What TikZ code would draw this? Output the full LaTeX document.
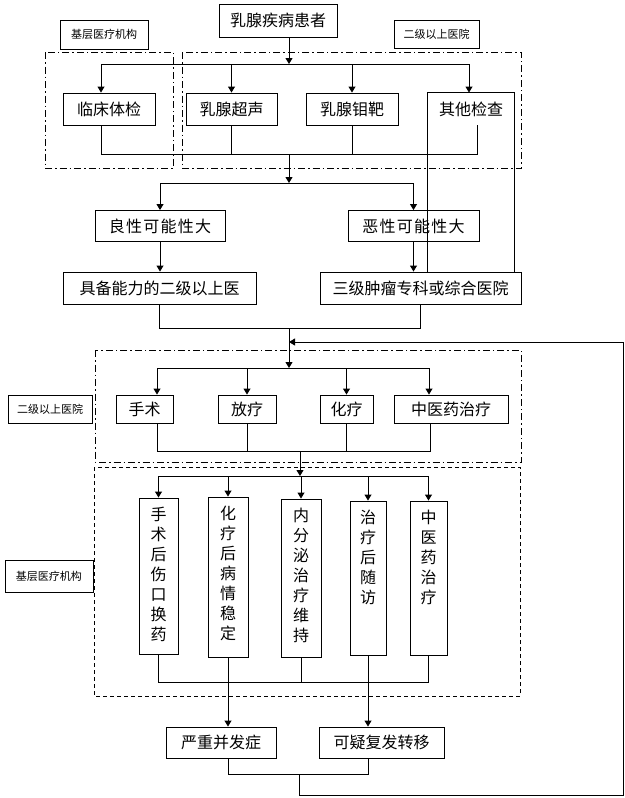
\documentclass[tikz,border=0pt]{standalone}
\usepackage{fontspec}
\newfontfamily\cjk{Noto Sans CJK SC}
\newfontfamily\cjkwide[LetterSpace=8]{Noto Sans CJK SC}
\usetikzlibrary{arrows.meta}

\newcommand{\vcol}[2]{\parbox[c][#1][t]{16pt}{\centering #2}}

\tikzset{
  box/.style={draw, line width=0.9pt, inner sep=0pt, font=\cjk\fontsize{16}{19}\selectfont},
  widebox/.style={box, font=\cjkwide\fontsize{16}{19}\selectfont},
  vbox/.style={box, font=\cjk\fontsize{16}{20}\selectfont},
  tag/.style={draw, line width=0.9pt, inner sep=0pt, font=\cjk\fontsize{11}{13}\selectfont},
  conn/.style={line width=0.9pt},
  arr/.style={conn, -{Triangle[width=7pt,length=6pt]}},
  dashdot/.style={line width=0.9pt, dash pattern=on 7pt off 3pt on 1.5pt off 3pt},
  dashbox/.style={line width=0.9pt, dash pattern=on 4pt off 3pt}
}

\begin{document}
\begin{tikzpicture}[x=1pt, y=-1pt]
\useasboundingbox (0,0) rectangle (624,798);

% screening
\node[box, minimum width=118, minimum height=33] (patient) at (278,20.5) {乳腺疾病患者};
\node[tag, minimum width=88, minimum height=29] (tagA) at (104,34.5) {基层医疗机构};
\node[tag, minimum width=85, minimum height=28] (tagB) at (436.5,34) {二级以上医院};
\draw[dashdot] (45,52) rectangle (173,168);
\draw[dashdot] (182,52) rectangle (521,168);

\node[box, minimum width=92, minimum height=32] (exam) at (109,109) {临床体检};
\node[box, minimum width=91, minimum height=32] (sono) at (231.5,109) {乳腺超声};
\node[box, minimum width=92, minimum height=32] (mammo) at (352,109) {乳腺钼靶};
\node[box, draw=none, minimum width=86, minimum height=32] (other) at (471,109) {其他检查};

\coordinate (s1) at (289,64);
\coordinate (s1l) at (101,64);
\coordinate (s1r) at (469,64);
\draw[arr] (patient.south -| s1) -- (s1);
\draw[conn] (s1l) -- (s1r);
\draw[arr] (s1l) -- (s1l |- exam.north);
\draw[arr] (sono.north |- s1) -- (sono.north);
\draw[arr] (mammo.north |- s1) -- (mammo.north);
\draw[arr] (s1r) -- (s1r |- other.north);

\coordinate (m1) at (289,154);
\coordinate (m1l) at (101,154);
\coordinate (m1r) at (477,154);
\draw[conn] (m1l |- exam.south) -- (m1l) -- (m1r) -- (m1r |- other.south);
\draw[conn] (sono.south) -- (sono.south |- m1);
\draw[conn] (mammo.south) -- (mammo.south |- m1);

% diagnosis
\node[widebox, minimum width=130, minimum height=31] (benign) at (160,226) {良性可能性大};
\node[widebox, minimum width=131, minimum height=31] (malig) at (413.5,226) {恶性可能性大};
\node[box, minimum width=193, minimum height=32] (levelB) at (159.5,288) {具备能力的二级以上医};
\node[box, minimum width=201, minimum height=32] (levelC) at (420.5,288) {三级肿瘤专科或综合医院};
\draw[conn] (other.north west |- levelC.north) -- (other.north west) -- (other.north east) -- (other.north east |- levelC.north);

\coordinate (s2) at (289,183);
\draw[arr] (m1) -- (s2);
\draw[conn] (benign.north |- s2) -- (malig.north |- s2);
\draw[arr] (benign.north |- s2) -- (benign.north);
\draw[arr] (malig.north |- s2) -- (malig.north);
\draw[arr] (benign.south) -- (benign.south |- levelB.north);
\draw[arr] (malig.south) -- (malig.south |- levelC.north);

\coordinate (m2) at (289,328);
\coordinate (back) at (289,342);
\coordinate (s3) at (289,368);
\draw[conn] (levelB.south) -- (levelB.south |- m2) -- (levelC.south |- m2) -- (levelC.south);
\draw[arr] (m2) -- (s3);

% treatment
\draw[dashdot] (95,350) rectangle (521,462);
\node[tag, minimum width=84, minimum height=28] (tagC) at (50,409) {二级以上医院};
\node[box, minimum width=57, minimum height=28] (surg) at (144.5,409) {手术};
\node[box, minimum width=58, minimum height=28] (radio) at (247,409) {放疗};
\node[box, minimum width=53, minimum height=28] (chemo) at (346.5,409) {化疗};
\node[box, minimum width=114, minimum height=28] (tcm) at (451,409) {中医药治疗};

\coordinate (s3l) at (157,368);
\coordinate (s3r) at (429,368);
\draw[conn] (s3l) -- (s3r);
\draw[arr] (s3l) -- (s3l |- surg.north);
\draw[arr] (radio.north |- s3) -- (radio.north);
\draw[arr] (chemo.north |- s3) -- (chemo.north);
\draw[arr] (s3r) -- (s3r |- tcm.north);

\coordinate (m3) at (300,451);
\coordinate (m3l) at (157,451);
\coordinate (m3r) at (430,451);
\draw[conn] (m3l |- surg.south) -- (m3l) -- (m3r) -- (m3r |- tcm.south);
\draw[conn] (radio.south) -- (radio.south |- m3);
\draw[conn] (chemo.south) -- (chemo.south |- m3);

% follow-up
\draw[dashbox] (94,467) rectangle (520,696);
\node[tag, minimum width=88, minimum height=32] (tagD) at (49,576) {基层医疗机构};
\node[vbox, minimum width=39, minimum height=156] (wound) at (158.5,576) {\vcol{138pt}{手\\术\\后\\伤\\口\\换\\药}};
\node[vbox, minimum width=40, minimum height=160] (stable) at (228,577) {\vcol{142pt}{化\\疗\\后\\病\\情\\稳\\定}};
\node[vbox, minimum width=40, minimum height=158] (endo) at (301,578) {\vcol{140pt}{内\\分\\泌\\治\\疗\\维\\持}};
\node[vbox, minimum width=36, minimum height=154] (visit) at (368,578) {\vcol{136pt}{治\\疗\\后\\随\\访}};
\node[vbox, minimum width=37, minimum height=154] (herb) at (428.5,578) {\vcol{136pt}{中\\医\\药\\治\\疗}};

\coordinate (s4) at (300,476);
\draw[arr] (m3) -- (s4);
\draw[conn] (wound.north |- s4) -- (herb.north |- s4);
\draw[arr] (wound.north |- s4) -- (wound.north);
\draw[arr] (stable.north |- s4) -- (stable.north);
\draw[arr] (endo.north |- s4) -- (endo.north);
\draw[arr] (visit.north |- s4) -- (visit.north);
\draw[arr] (herb.north |- s4) -- (herb.north);

\coordinate (m4) at (300,682);
\draw[conn] (wound.south) -- (wound.south |- m4) -- (herb.south |- m4) -- (herb.south);
\draw[conn] (endo.south) -- (endo.south |- m4);

% outcome
\node[box, minimum width=110, minimum height=31] (severe) at (221,742.5) {严重并发症};
\node[box, minimum width=125, minimum height=31] (relapse) at (381.5,742.5) {可疑复发转移};
\draw[arr] (stable.south) -- (stable.south |- severe.north);
\draw[arr] (visit.south) -- (visit.south |- relapse.north);

\coordinate (m5) at (299,774);
\coordinate (loop) at (623,795);
\draw[conn] (stable.south |- severe.south) -- (stable.south |- m5) -- (visit.south |- m5) -- (visit.south |- relapse.south);
\draw[arr] (m5) -- (m5 |- loop) -- (loop) -- (loop |- back) -- (back);
\end{tikzpicture}
\end{document}
